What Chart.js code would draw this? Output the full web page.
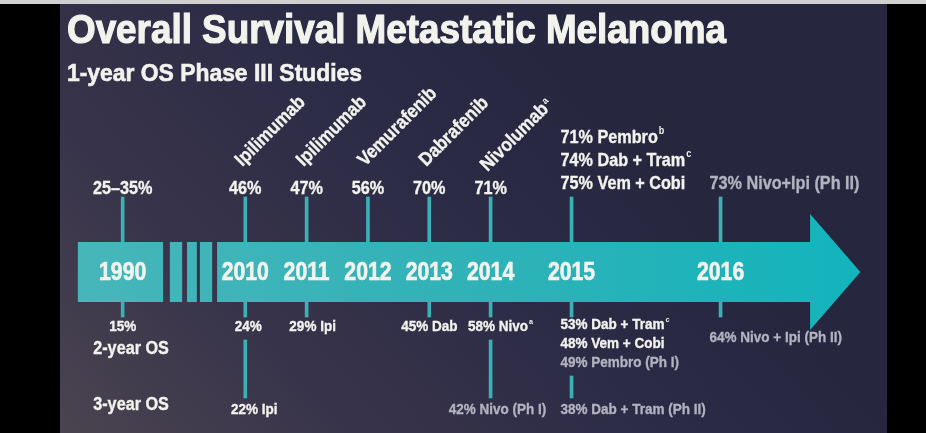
<!DOCTYPE html>
<html>
<head>
<meta charset="utf-8">
<title>Overall Survival Metastatic Melanoma</title>
<script src="https://cdn.jsdelivr.net/npm/chart.js@4.4.1/dist/chart.umd.min.js"></script>
<style>
  html, body { margin: 0; padding: 0; background: #000; }
  #wrap { width: 926px; height: 433px; }
</style>
</head>
<body>
<div id="wrap"><canvas id="timeline"></canvas></div>
<script>
// Timeline de supervivencia global (OS) en melanoma metastásico.
// Todo se pinta con Chart.js: los "palitos" son barras flotantes y el resto lo dibuja un plugin usando las escalas.

const TITLE = 'Overall Survival Metastatic Melanoma';
const SUBTITLE = '1-year OS Phase III Studies';

// Años del eje y los fármacos aprobados en cada uno (^x = superíndice)
const years = ['1990', '2010', '2011', '2012', '2013', '2014', '2015', '2016'];
const drugs = ['', 'Ipilimumab', 'Ipilimumab', 'Vemurafenib', 'Dabrafenib', 'Nivolumab^a', '', ''];

// OS a 1 año (arriba de la flecha)
const os1Year = [
  ['25–35%'], ['46%'], ['47%'], ['56%'], ['70%'], ['71%'],
  ['71% Pembro^b', '74% Dab + Tram^c', '75% Vem + Cobi'],
  ['73% Nivo+Ipi (Ph II)']
];

// OS a 2 años (debajo de la flecha)
const os2Year = [
  ['15%'], ['24%'], ['29% Ipi'], [], ['45% Dab'], ['58% Nivo^a'],
  ['53% Dab + Tram^c', '48% Vem + Cobi', '49% Pembro (Ph I)'],
  ['64% Nivo + Ipi (Ph II)']
];

// OS a 3 años (última fila)
const os3Year = [
  [], ['22% Ipi'], [], [], [], ['42% Nivo (Ph I)'], ['38% Dab + Tram (Ph II)'], []
];

const rowNames = ['2-year OS', '3-year OS'];

// ---- Acomodo (no son datos): posición de cada año en el eje x, 1990 va comprimido ----
const SLOT  = [0, 2, 3, 4, 5, 6, 7.32, 9.75];
const ALIGN = ['center', 'center', 'center', 'center', 'center', 'center', 'left', 'left'];
const DX2   = [0, 3, 6, 0, 0, 10, 0, 0];   // pequeños corrimientos de las etiquetas de abajo (px)
const DX3   = [0, 9, 0, 0, 0, 7, 0, 0];
const DY2   = [0, 0, 0, 0, 0, 0, -2, 11];
const DRUG_DY = [0, 0, 0, 0, 0, 5, 0, 0];
const X_MIN = -2, X_MAX = 13.1;
const ROW_X = -0.48;   // donde empiezan "2-year OS" / "3-year OS"

const Y = {
  bandTop: 242, bandBottom: 302, bandMid: 272, headTop: 214, headBottom: 330,
  stemTop: 197, row1: 189, row1Stack: 184, line1: 23,
  row2: 327, line2: 19, stem2End: 317,
  row3: 410, stem3End: 398, drugBase: 167
};

const BAND = {
  start: -0.73, boxEnd: 0.66,
  breaks: [[0.77, 0.97], [1.05, 1.21], [1.26, 1.46]],
  bodyStart: 1.54, bodyEnd: 11.21, tip: 12.03
};

const FONT = '"Liberation Sans", Arial, sans-serif';
const SQUEEZE = 0.9;
const WHITE = '#f3f3ee';
const GRAY = '#b2b2c0';
const TEAL = '#3bb1b5';

// Palitos verticales que unen cada etiqueta con la flecha
function buildStems() {
  const pts = [];
  years.forEach((_, i) => {
    const x = SLOT[i];
    if (os1Year[i].length) pts.push({ x, y: [Y.stemTop, Y.bandTop] });
    if (os2Year[i].length) pts.push({ x, y: [Y.bandBottom, Y.stem2End] });
    if (os3Year[i].length) {
      const last = Y.row2 + DY2[i] + (os2Year[i].length - 1) * Y.line2;
      pts.push({ x, y: [last + 13, Y.stem3End] });
    }
  });
  return pts;
}

// Texto en negrita "angostado" con soporte de superíndice y rotación
function drawLabel(ctx, str, x, y, { size = 18, align = 'left', color, angle = 0, baseline = 'middle', squeeze = SQUEEZE, stroke = 0.35 } = {}) {
  const [main, sup] = str.split('^');
  const mainFont = `bold ${size}px ${FONT}`;
  const supFont = `bold ${Math.round(size * 0.55)}px ${FONT}`;
  ctx.font = mainFont;
  const wMain = ctx.measureText(main).width * squeeze;
  let wSup = 0;
  if (sup) { ctx.font = supFont; wSup = ctx.measureText(sup).width * squeeze + 1; }
  const left = align === 'center' ? -(wMain + wSup) / 2 : 0;
  const fill = color || (str.includes('(Ph') ? GRAY : WHITE);

  ctx.save();
  ctx.fillStyle = fill;
  ctx.strokeStyle = fill;
  ctx.lineWidth = stroke;
  ctx.textBaseline = baseline;
  ctx.textAlign = 'left';
  ctx.translate(x, y);
  ctx.rotate(angle);
  ctx.save();
  ctx.translate(left, 0);
  ctx.scale(squeeze, 1);
  ctx.font = mainFont;
  ctx.fillText(main, 0, 0);
  if (stroke) ctx.strokeText(main, 0, 0);
  ctx.restore();
  if (sup) {
    ctx.translate(left + wMain + 1, -size * 0.35);
    ctx.scale(squeeze, 1);
    ctx.font = supFont;
    ctx.fillText(sup, 0, 0);
  }
  ctx.restore();
}

// Título ajustado a un ancho fijo
function drawFit(ctx, str, x, y, size, width, stroke) {
  ctx.save();
  ctx.font = `bold ${size}px ${FONT}`;
  const k = width / ctx.measureText(str).width;
  ctx.fillStyle = WHITE;
  ctx.strokeStyle = WHITE;
  ctx.lineWidth = stroke;
  ctx.textBaseline = 'alphabetic';
  ctx.textAlign = 'left';
  ctx.translate(x, y);
  ctx.scale(k, 1);
  ctx.fillText(str, 0, 0);
  ctx.strokeText(str, 0, 0);
  ctx.restore();
}

const timelinePlugin = {
  id: 'timeline',
  beforeDraw(chart) {
    const { ctx, width, height } = chart;
    ctx.save();
    ctx.fillStyle = '#000';
    ctx.fillRect(0, 0, width, height);
    // Fondo de la diapositiva: azul marino arriba, más claro abajo a la izquierda
    const g = ctx.createLinearGradient(60, 433, 520, 0);
    g.addColorStop(0, '#4a4450');
    g.addColorStop(0.35, '#37334a');
    g.addColorStop(0.7, '#2c2b46');
    g.addColorStop(1, '#26263f');
    ctx.fillStyle = g;
    ctx.fillRect(60, 4, 827, height - 4);
    ctx.fillStyle = '#d0d0d0';
    ctx.fillRect(0, 0, width, 4);
    ctx.restore();

    drawFit(ctx, TITLE, 67, 43, 41, 659, 1.2);
    drawFit(ctx, SUBTITLE, 67, 81, 24, 295, 0.6);
  },
  beforeDatasetsDraw(chart) {
    const { ctx } = chart;
    const xs = chart.scales.x, ys = chart.scales.y;
    const px = v => xs.getPixelForValue(v);
    const py = v => ys.getPixelForValue(v);
    const top = py(Y.bandTop), bottom = py(Y.bandBottom), h = bottom - top;

    const g = ctx.createLinearGradient(px(BAND.start), 0, px(BAND.tip), 0);
    g.addColorStop(0, '#47b6ba');
    g.addColorStop(0.5, '#30b2b7');
    g.addColorStop(1, '#13b4bc');

    ctx.save();
    ctx.fillStyle = g;
    ctx.fillRect(px(BAND.start), top, px(BAND.boxEnd) - px(BAND.start), h);
    BAND.breaks.forEach(([a, b]) => ctx.fillRect(px(a), top, px(b) - px(a), h));

    ctx.beginPath();
    ctx.moveTo(px(BAND.bodyStart), top);
    ctx.lineTo(px(BAND.bodyEnd), top);
    ctx.lineTo(px(BAND.bodyEnd), py(Y.headTop));
    ctx.lineTo(px(BAND.tip), py(Y.bandMid));
    ctx.lineTo(px(BAND.bodyEnd), py(Y.headBottom));
    ctx.lineTo(px(BAND.bodyEnd), bottom);
    ctx.lineTo(px(BAND.bodyStart), bottom);
    ctx.closePath();
    ctx.fill();
    ctx.restore();
  },
  afterDatasetsDraw(chart) {
    const { ctx } = chart;
    const xs = chart.scales.x, ys = chart.scales.y;
    const px = v => xs.getPixelForValue(v);
    const py = v => ys.getPixelForValue(v);

    years.forEach((yr, i) => {
      const x = px(SLOT[i]);
      const left = ALIGN[i] === 'left';
      const ax = left ? x - 11 : x;

      // Año dentro de la flecha
      drawLabel(ctx, yr, x, py(Y.bandMid + 1), { size: 25, align: 'center', color: WHITE, squeeze: 0.85, stroke: 0.6 });

      // Fármaco en diagonal
      if (drugs[i]) {
        drawLabel(ctx, drugs[i], x - 3, py(Y.drugBase + DRUG_DY[i]), { size: 19, angle: -Math.PI / 4, baseline: 'alphabetic', color: WHITE });
      }

      // 1 año: se apilan hacia arriba
      const l1 = os1Year[i];
      const base1 = left ? Y.row1Stack : Y.row1;
      l1.forEach((t, k) => {
        drawLabel(ctx, t, ax, py(base1 - (l1.length - 1 - k) * Y.line1), { size: 18, align: ALIGN[i] });
      });

      // 2 años: se apilan hacia abajo
      os2Year[i].forEach((t, k) => {
        drawLabel(ctx, t, ax + DX2[i], py(Y.row2 + DY2[i] + k * Y.line2), { size: 15, align: ALIGN[i] });
      });

      // 3 años
      os3Year[i].forEach(t => {
        drawLabel(ctx, t, ax + DX3[i], py(Y.row3), { size: 15, align: ALIGN[i] });
      });
    });

    drawLabel(ctx, rowNames[0], px(ROW_X), py(349), { size: 18, color: WHITE });
    drawLabel(ctx, rowNames[1], px(ROW_X), py(405), { size: 18, color: WHITE });
  }
};

new Chart(document.getElementById('timeline'), {
  type: 'bar',
  data: {
    datasets: [{
      label: 'stems',
      data: buildStems(),
      backgroundColor: TEAL,
      borderWidth: 0,
      barThickness: 3,
      grouped: false
    }]
  },
  options: {
    responsive: true,
    maintainAspectRatio: false,
    animation: false,
    events: [],
    layout: { padding: 0 },
    plugins: { legend: { display: false }, tooltip: { enabled: false } },
    scales: {
      x: { type: 'linear', min: X_MIN, max: X_MAX, offset: false, display: false, grid: { offset: false } },
      y: { type: 'linear', min: 0, max: 433, reverse: true, display: false }
    }
  },
  plugins: [timelinePlugin]
});
</script>
</body>
</html>
